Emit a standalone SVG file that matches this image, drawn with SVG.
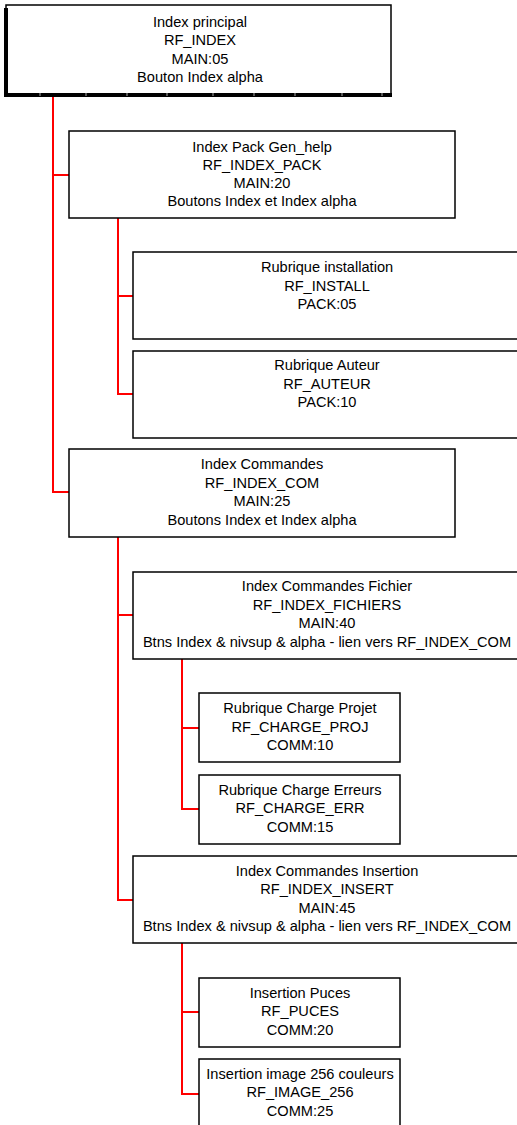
<svg xmlns="http://www.w3.org/2000/svg" width="517" height="1125" viewBox="0 0 517 1125">
<style>
.box{fill:#fff;stroke:#000;stroke-width:1.5}
.t{font-family:"Liberation Sans",Arial,sans-serif;font-size:14.6px;fill:#000;text-anchor:middle;dominant-baseline:central}
.c{fill:none;stroke:#f00;stroke-width:2}
.tick{stroke:#aaa;stroke-width:1}
</style>
<rect width="517" height="1125" fill="#fff"/>
<g id="connectors">
<polyline class="c" points="53,97 53,492 69,492"/>
<line class="c" x1="53" y1="175" x2="69" y2="175"/>
<polyline class="c" points="118,218 118,394 133,394"/>
<line class="c" x1="118" y1="296" x2="133" y2="296"/>
<polyline class="c" points="118,537 118,900 133,900"/>
<line class="c" x1="118" y1="615" x2="133" y2="615"/>
<polyline class="c" points="182,659 182,809 199,809"/>
<line class="c" x1="182" y1="728" x2="199" y2="728"/>
<polyline class="c" points="182,943 182,1094 199,1094"/>
<line class="c" x1="182" y1="1012" x2="199" y2="1012"/>
</g>
<g id="n1">
<rect class="box" x="6" y="5" width="385" height="89"/>
<rect x="4" y="8" width="4" height="89" fill="#000"/>
<rect x="4" y="93" width="388" height="4" fill="#000"/>
<g class="tick"><line x1="40" y1="93" x2="40" y2="96"/><line x1="86" y1="93" x2="86" y2="96"/><line x1="127" y1="93" x2="127" y2="96"/><line x1="167" y1="93" x2="167" y2="96"/><line x1="213" y1="93" x2="213" y2="96"/><line x1="254" y1="93" x2="254" y2="96"/><line x1="295" y1="93" x2="295" y2="96"/><line x1="342" y1="93" x2="342" y2="96"/><line x1="382" y1="93" x2="382" y2="96"/></g>
<text class="t" x="200" y="22">Index principal</text>
<text class="t" x="200" y="40">RF_INDEX</text>
<text class="t" x="200" y="59">MAIN:05</text>
<text class="t" x="200" y="77">Bouton Index alpha</text>
</g>
<g id="n2">
<rect class="box" x="69" y="131" width="386" height="87"/>
<text class="t" x="262" y="147">Index Pack Gen_help</text>
<text class="t" x="262" y="165">RF_INDEX_PACK</text>
<text class="t" x="262" y="183">MAIN:20</text>
<text class="t" x="262" y="201">Boutons Index et Index alpha</text>
</g>
<g id="n3">
<rect class="box" x="133" y="252" width="390" height="87"/>
<text class="t" x="327" y="267">Rubrique installation</text>
<text class="t" x="327" y="286">RF_INSTALL</text>
<text class="t" x="327" y="304">PACK:05</text>
</g>
<g id="n4">
<rect class="box" x="133" y="351" width="390" height="87"/>
<text class="t" x="327" y="365">Rubrique Auteur</text>
<text class="t" x="327" y="384">RF_AUTEUR</text>
<text class="t" x="327" y="402">PACK:10</text>
</g>
<g id="n5">
<rect class="box" x="69" y="449" width="386" height="88"/>
<text class="t" x="262" y="464">Index Commandes</text>
<text class="t" x="262" y="483">RF_INDEX_COM</text>
<text class="t" x="262" y="501">MAIN:25</text>
<text class="t" x="262" y="520">Boutons Index et Index alpha</text>
</g>
<g id="n6">
<rect class="box" x="133" y="572" width="390" height="87"/>
<text class="t" x="327" y="586">Index Commandes Fichier</text>
<text class="t" x="327" y="605">RF_INDEX_FICHIERS</text>
<text class="t" x="327" y="623">MAIN:40</text>
<text class="t" x="327" y="642">Btns Index &amp; nivsup &amp; alpha - lien vers RF_INDEX_COM</text>
</g>
<g id="n7">
<rect class="box" x="199" y="693" width="201" height="69"/>
<text class="t" x="300" y="708">Rubrique Charge Projet</text>
<text class="t" x="300" y="727">RF_CHARGE_PROJ</text>
<text class="t" x="300" y="745">COMM:10</text>
</g>
<g id="n8">
<rect class="box" x="199" y="775" width="201" height="69"/>
<text class="t" x="300" y="790">Rubrique Charge Erreurs</text>
<text class="t" x="300" y="808">RF_CHARGE_ERR</text>
<text class="t" x="300" y="827">COMM:15</text>
</g>
<g id="n9">
<rect class="box" x="133" y="856" width="390" height="87"/>
<text class="t" x="327" y="871">Index Commandes Insertion</text>
<text class="t" x="327" y="889">RF_INDEX_INSERT</text>
<text class="t" x="327" y="908">MAIN:45</text>
<text class="t" x="327" y="926">Btns Index &amp; nivsup &amp; alpha - lien vers RF_INDEX_COM</text>
</g>
<g id="n10">
<rect class="box" x="199" y="978" width="201" height="69"/>
<text class="t" x="300" y="993">Insertion Puces</text>
<text class="t" x="300" y="1011">RF_PUCES</text>
<text class="t" x="300" y="1030">COMM:20</text>
</g>
<g id="n11">
<rect class="box" x="199" y="1059" width="201" height="75"/>
<text class="t" x="300" y="1074">Insertion image 256 couleurs</text>
<text class="t" x="300" y="1092">RF_IMAGE_256</text>
<text class="t" x="300" y="1111">COMM:25</text>
</g>
</svg>
